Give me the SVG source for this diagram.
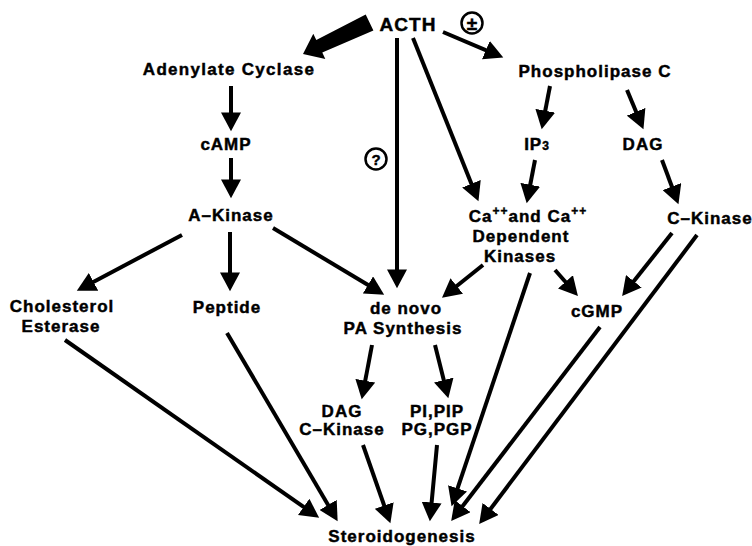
<svg xmlns="http://www.w3.org/2000/svg" width="752" height="546" viewBox="0 0 752 546">
<style>
text{font-family:"Liberation Sans",Arial,Helvetica,sans-serif;font-weight:bold;font-size:17px;letter-spacing:1px;fill:#000;stroke:#000;stroke-width:0.45;text-anchor:middle}
.c line{stroke:#000;stroke-width:4;fill:none;marker-end:url(#ah)}
.sym{fill:none;stroke:#000;stroke-width:2.5}
</style>
<defs>
<marker id="ah" markerUnits="userSpaceOnUse" markerWidth="20" markerHeight="20" refX="5" refY="9" orient="auto" viewBox="0 0 18 18">
<path d="M0,0 L17,9 L0,18 z" fill="#000"/>
</marker>
</defs>
<rect width="752" height="546" fill="#fff"/>
<g id="connectors" class="c">
<polygon points="365.7,14.4 373.4,30.6 322.3,52.6 325.3,58.9 303,54 313.3,33.7 316.3,40" fill="#000" stroke="none"/>
<line x1="231" y1="86" x2="231" y2="118"/>
<line x1="231" y1="158" x2="231" y2="185"/>
<line x1="182" y1="235" x2="88.6" y2="284.4"/>
<line x1="230" y1="232" x2="230" y2="278"/>
<line x1="273" y1="228" x2="372.7" y2="287.8"/>
<line x1="397" y1="38" x2="397" y2="275"/>
<line x1="413" y1="38" x2="473.5" y2="188.9"/>
<line x1="443" y1="32" x2="491" y2="52.3"/>
<line x1="550" y1="86" x2="544.2" y2="116.2"/>
<line x1="627" y1="90" x2="638.3" y2="116.9"/>
<line x1="535" y1="160" x2="529.2" y2="190.2"/>
<line x1="662" y1="160" x2="673.8" y2="191.8"/>
<line x1="483" y1="265" x2="452.4" y2="289.5"/>
<line x1="555" y1="270" x2="569.1" y2="286"/>
<line x1="672" y1="233" x2="630.4" y2="285.6"/>
<line x1="372" y1="345" x2="364.2" y2="386.2"/>
<line x1="435" y1="345" x2="445.1" y2="385.4"/>
<line x1="65" y1="340" x2="308.2" y2="510.1"/>
<line x1="227" y1="333" x2="330.9" y2="509.7"/>
<line x1="363" y1="445" x2="386" y2="510.7"/>
<line x1="437" y1="445" x2="431.1" y2="508"/>
<line x1="530" y1="273" x2="455.8" y2="493.6"/>
<line x1="600" y1="327" x2="459.3" y2="510.5"/>
<line x1="697" y1="235" x2="487.2" y2="513.4"/>
</g>
<g id="label-plus">
<circle class="sym" cx="472" cy="23" r="10.5"/>
<text x="472" y="30" style="font-size:19px;letter-spacing:0">±</text>
</g>
<g id="label-question">
<circle class="sym" cx="376" cy="159" r="10.5"/>
<text x="376" y="165" style="font-size:15px;letter-spacing:0">?</text>
</g>
<g id="acth"><text x="408" y="31" style="font-size:19px">ACTH</text></g>
<g id="adenylate-cyclase"><text x="229" y="75" style="letter-spacing:1.3px">Adenylate Cyclase</text></g>
<g id="camp"><text x="226" y="150">cAMP</text></g>
<g id="a-kinase"><text x="231" y="221">A–Kinase</text></g>
<g id="phospholipase-c"><text x="595" y="77">Phospholipase C</text></g>
<g id="ip3"><text x="537" y="150">IP<tspan style="font-size:12px">3</tspan></text></g>
<g id="dag-top"><text x="643" y="150">DAG</text></g>
<g id="ca-kinases">
<text x="528" y="222">Ca<tspan dy="-7" style="font-size:12px">++</tspan><tspan dy="7">and Ca</tspan><tspan dy="-7" style="font-size:12px">++</tspan></text>
<text x="521" y="242">Dependent</text>
<text x="520" y="262">Kinases</text>
</g>
<g id="c-kinase-top"><text x="710" y="224">C–Kinase</text></g>
<g id="cholesterol-esterase">
<text x="62" y="312">Cholesterol</text>
<text x="61" y="332">Esterase</text>
</g>
<g id="peptide"><text x="227" y="313">Peptide</text></g>
<g id="pa-synthesis">
<text x="406" y="314">de novo</text>
<text x="403" y="334">PA Synthesis</text>
</g>
<g id="cgmp"><text x="597" y="317">cGMP</text></g>
<g id="dag-c-kinase">
<text x="342" y="417">DAG</text>
<text x="342" y="435">C–Kinase</text>
</g>
<g id="pi-pip">
<text x="437" y="417">PI,PIP</text>
<text x="437" y="435">PG,PGP</text>
</g>
<g id="steroidogenesis"><text x="402" y="542">Steroidogenesis</text></g>
</svg>
